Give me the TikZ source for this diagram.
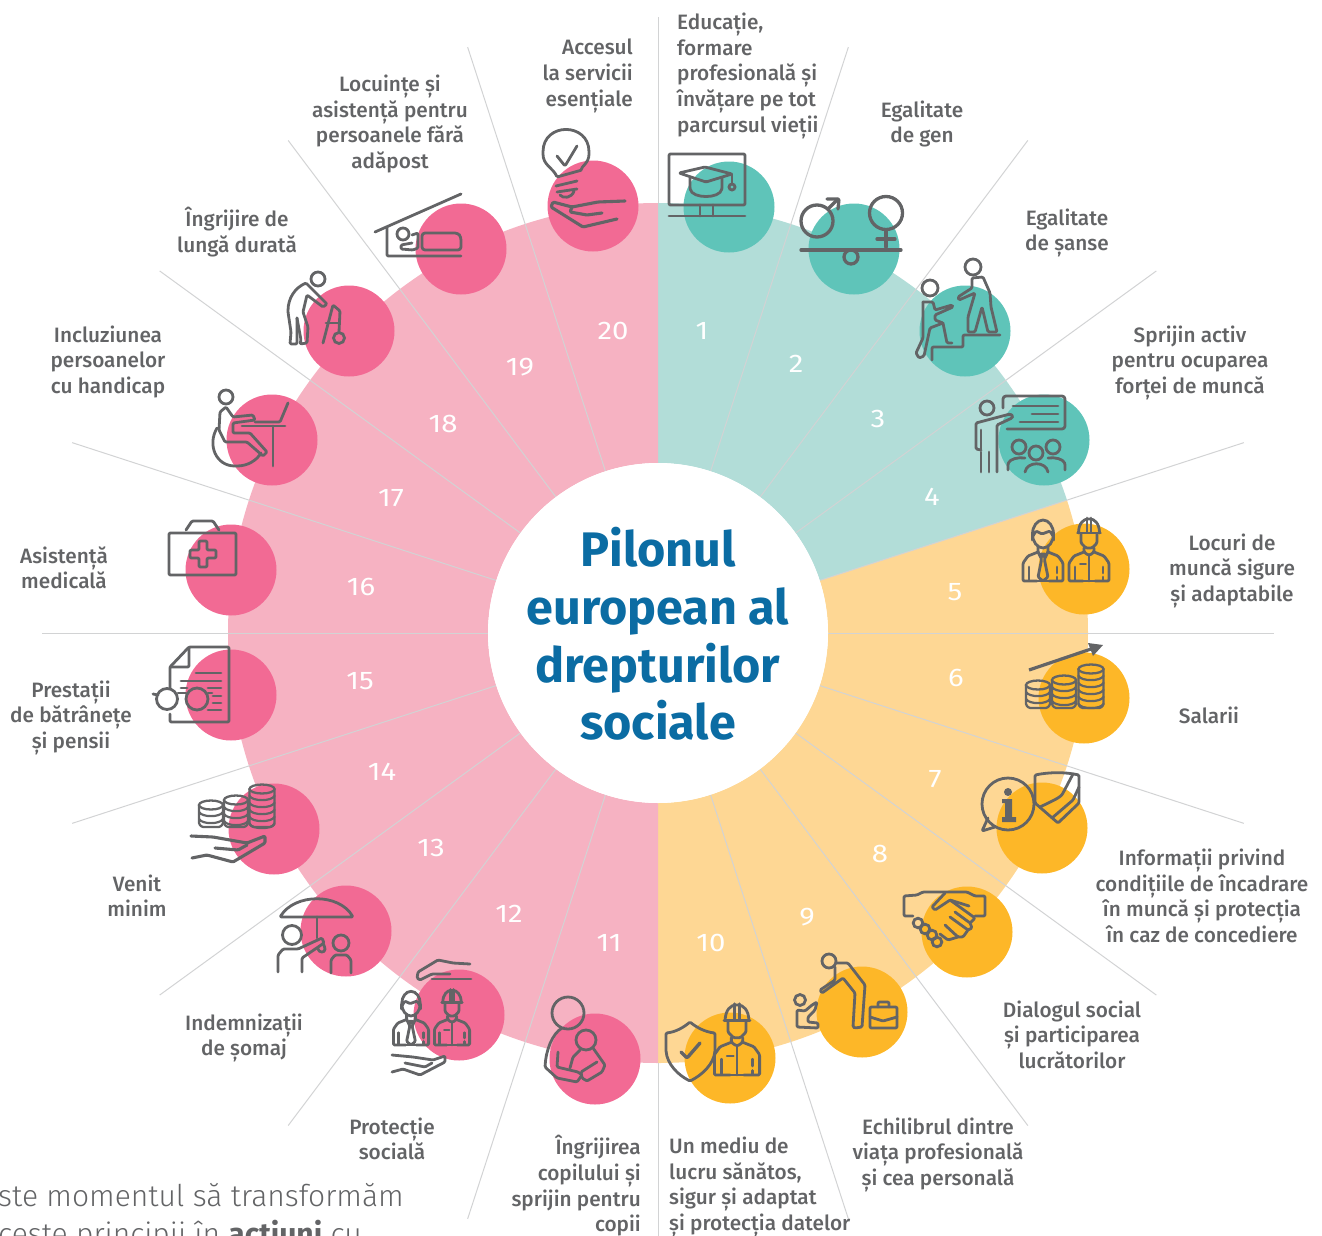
\documentclass[tikz,border=0pt]{standalone}
\usepackage{fontspec}
\setmainfont{Fira Sans}
\newfontfamily\labf{Fira Sans Medium}
\newfontfamily\lightf{Fira Sans Light}
\newfontfamily\numf{Fira Sans}[FakeStretch=1.15]
\definecolor{icg}{HTML}{636466}
\definecolor{txg}{HTML}{636466}
\definecolor{spk}{HTML}{D2D3D4}
\definecolor{ringT}{HTML}{B2DDD8}
\definecolor{ringY}{HTML}{FED794}
\definecolor{ringP}{HTML}{F6B2C2}
\definecolor{dotT}{HTML}{5FC4B9}
\definecolor{dotY}{HTML}{FDB728}
\definecolor{dotP}{HTML}{F26A94}
\definecolor{ttl}{HTML}{0B6CA3}
\tikzset{
  ic/.style={draw=icg,line width=2.8pt,line join=round,line cap=round,rounded corners=1.2pt},
  icc/.style={draw=icg,line width=2.8pt},
  dot/.style={circle,minimum size=91pt,inner sep=0pt,draw=none},
  num/.style={text=white,font=\numf\fontsize{25.5}{25.5}\selectfont},
  lab/.style={text=txg,align=center,inner sep=0pt,font=\labf\fontsize{20.8}{25.6}\selectfont,yshift=-3.4pt,
     execute at begin node=\strut,execute at end node=\strut},
  labr/.style={lab,align=right,anchor=east},
  labl/.style={lab,align=left,anchor=west},
  ttlt/.style={text=ttl,font=\fontsize{48.5}{58}\selectfont\bfseries,inner sep=0pt,anchor=base},
  spoke/.style={draw=spk,line width=1pt}
}
\newcommand\coinstack[4]{%
  \draw[icc,line width=2.3pt] (#1,#2) ellipse [x radius=#4,y radius=4.5];
  \draw[ic,line width=2.3pt] (#1-#4,#2) -- (#1-#4,#3-3) -- (#1-#4+3,#3) -- (#1+#4-3,#3) -- (#1+#4,#3-3) -- (#1+#4,#2);
  \pgfmathtruncatemacro\nnn{(#3-#2-3)/7}
  \foreach \k in {1,...,\nnn}{
    \draw[ic,line width=2.2pt] (#1-#4,#2+\k*7) .. controls (#1-#4+3,#2+\k*7+5.5) and (#1+#4-3,#2+\k*7+5.5) .. (#1+#4,#2+\k*7);
  }
}
\newcommand\armsbody{%
  \draw[ic] (-5,-29) -- (-15,-25) -- (-20,-18) -- (-20,0) -- (-6,0);
  \draw[ic] (5,-29) -- (15,-25) -- (20,-18) -- (20,0) -- (6,0);
  \draw[ic] (-14,-14) -- (-14,-1);
  \draw[ic] (14,-14) -- (14,-8);
  \draw[ic] (14,-4) -- (14,-1);
}
\newcommand\hatworker[3]{%
\begin{scope}[shift={(#1,#2)},scale=#3]
  \draw[ic] (-10.5,-48) .. controls (-10.5,-58) and (-5,-62) .. (0,-62) .. controls (5,-62) and (10.5,-58) .. (10.5,-48);
  \draw[ic] (-11.5,-48) -- (11.5,-48);
  \draw[ic] (-2,-63) -- (-2,-49);
  \draw[ic] (2,-63) -- (2,-49);
  \draw[ic] (-8,-47) -- (-8,-38) -- (-3,-33) -- (3,-33) -- (8,-38) -- (8,-47);
  \draw[ic] (-5,-33) -- (-5,-29) -- (-1,-26) -- (1,-26) -- (5,-29) -- (5,-33);
  \armsbody
  \draw[ic] (-6,0) -- (6,0);
  \draw[ic] (0,-26) -- (0,0);
  \draw[ic,line width=1.8pt] (-9,-17) -- (-3,-17);
\end{scope}}
\newcommand\suitworker[3]{%
\begin{scope}[shift={(#1,#2)},scale=#3]
  \draw[icc] (0,-47) ellipse [x radius=10.5,y radius=14];
  \draw[ic] (-10,-45) -- (-7,-50) -- (-1,-47) -- (7,-50) -- (10,-45);
  \draw[ic] (-11,-46) -- (-11,-41);
  \draw[ic] (11,-46) -- (11,-41);
  \draw[ic] (-5,-35) -- (-5,-29) -- (-2,-23) -- (0,-27) -- (2,-23) -- (5,-29) -- (5,-35);
  \armsbody
  \draw[ic] (-6,0) -- (6,0);
  \draw[ic] (-3,-27) -- (3,-27) -- (1.5,-21) -- (5,-4) -- (0,0) -- (-5,-4) -- (-1.5,-21) -- cycle;
\end{scope}}
\begin{document}
\begin{tikzpicture}[x=1pt,y=-1pt]
\useasboundingbox (0,0) rectangle (1322,1236);
\clip (0,0) rectangle (1322,1236);
% ring
\begin{scope}[shift={(658,633)},x=1pt,y=1pt]
  \fill[ringT] (90:170) arc[start angle=90,end angle=18,radius=170] -- (18:430) arc[start angle=18,end angle=90,radius=430] -- cycle;
  \fill[ringY] (18:170) arc[start angle=18,end angle=-90,radius=170] -- (-90:430) arc[start angle=-90,end angle=18,radius=430] -- cycle;
  \fill[ringP] (90:170) arc[start angle=90,end angle=270,radius=170] -- (270:430) arc[start angle=270,end angle=90,radius=430] -- cycle;
  \foreach \a in {0,18,36,53.1,72,108,126.9,144,162,180,198,216,233.1,252,288,306.9,324,342}{
    \draw[spoke] (\a:170) -- (\a:616);
  }
  \draw[spoke] (90:430) -- (90:616);
  \draw[spoke] (270:430) -- (270:616);
\end{scope}
% discs
\foreach \n/\x/\y/\c in {1/729/207/dotT,2/854/249/dotT,3/965/331/dotT,4/1044/440/dotT,
  5/1084/569/dotY,6/1084/698/dotY,7/1042/828/dotY,8/967/932/dotY,9/862/1012/dotY,10/730/1058/dotY,
  11/595/1059/dotP,12/459/1015/dotP,13/346/931/dotP,14/274/829/dotP,15/231/695/dotP,16/231/570/dotP,
  17/272/440/dotP,18/349/331/dotP,19/461/249/dotP,20/593/206/dotP}{
  \node[dot,fill=\c] (disc\n) at (\x,\y) {};
}
% centre
\node[circle,fill=white,minimum size=340pt,inner sep=0pt] (hub) at (658,633) {};
\node[ttlt] (t1) at (658,566) {Pilonul};
\node[ttlt] (t2) at (658,624) {european al};
\node[ttlt] (t3) at (658,682) {drepturilor};
\node[ttlt] (t4) at (658,739) {sociale};
% numbers
\foreach \n/\x/\y in {1/702/331,2/796/364,3/878/419,4/932/497,5/955/592,6/956/678,7/935/779,8/880/854,9/807/917,10/711/943,
  11/609/943,12/509/914,13/431/848,14/382/772,15/360/681,16/361/587,17/391/498,18/443/424,19/520/367,20/613/331}{
  \node[num] (num\n) at (\x,\y) {\n};
}
% icon 1
\draw[ic] (669,154) rectangle (745,205);
\draw[ic] (700,205) -- (700,216); \draw[ic] (713,205) -- (713,216);
\draw[ic] (669,216) -- (745,216);
\draw[ic] (679,173) -- (705,167) -- (732,174) -- (706,182) -- cycle;
\draw[ic] (732,174) -- (732,184);
\draw[icc] (732,187) circle[radius=3];
\draw[ic] (690,178) -- (690,188) .. controls (692,199) and (720,199) .. (722,188) -- (722,178);
% icon 2
\draw[icc,line width=3.3pt] (817,221) circle[radius=16];
\draw[ic,line width=3.3pt] (828,209) -- (838,199);
\draw[ic,line width=3.3pt] (827,199) -- (839,199) -- (838,209);
\draw[icc,line width=3.3pt] (886,213) circle[radius=16.5];
\draw[ic,line width=3.3pt] (886,230) -- (886,247);
\draw[ic,line width=3.3pt] (877,239) -- (895,239);
\draw[icc,line width=3.3pt] (851,257) circle[radius=7];
\draw[ic,line width=3.3pt] (801,250) -- (901,250);
% icon 3
\draw[icc] (973,267) circle[radius=8];
\draw[icc] (930,288) circle[radius=8];
\draw[ic] (972,278) -- (983,277) -- (990,293) -- (991,307) -- (997,332) -- (988,332) -- (982,307) -- (975,332) -- (968,332) -- (968,317) -- (975,293) -- (959,300) -- (958,297) -- (972,288) -- cycle;
\draw[ic] (1000,335) -- (963,335) -- (963,347) -- (932,347) -- (932,360);
\draw[ic] (923,302) -- (933,302) -- (935,310) -- (952,305) -- (953,307) -- (935,315) -- (935,320) -- (943,323) -- (947,343) -- (952,343);
\draw[ic] (923,302) -- (923,338) -- (916,353) -- (919,358) -- (924,356) -- (930,328) -- (943,323);
% icon 4
\draw[ic,rounded corners=3pt] (1003,408) -- (1003,396) -- (1065,396) -- (1065,429) -- (1007,429);
\draw[ic] (1013,406) -- (1058,406);
\draw[ic] (1032,414) -- (1058,414);
\draw[ic] (1020,422) -- (1058,422);
\draw[icc] (987,408) circle[radius=7];
\draw[ic] (981,450) -- (976,449) -- (976,423) -- (1010,414) -- (1013,416) -- (1012,418) -- (997,425) -- (997,472);
\draw[ic] (981,430) -- (981,449);
\draw[ic] (981,452) -- (981,472);
\draw[ic] (989,452) -- (989,472);
\draw[icc] (1019,447) circle[radius=7];
\draw[icc] (1036,453) circle[radius=7];
\draw[icc] (1053,447) circle[radius=7];
\draw[ic] (1008,470) -- (1008,464) .. controls (1010,459) and (1018,457) .. (1025,458);
\draw[ic] (1025,472) .. controls (1027,461) and (1046,461) .. (1048,472);
\draw[ic] (1048,458) .. controls (1055,457) and (1063,459) .. (1065,464) -- (1065,470);
% icon 5
\suitworker{1043}{581}{1}
\hatworker{1089}{581}{1}
% icon 6
\coinstack{1038}{685}{708}{12}
\coinstack{1064}{680}{708}{12}
\coinstack{1091}{669}{708}{12.5}
\draw[icg,line width=3.2pt] (1029,670) -- (1094,648);
\fill[icg] (1088,643) -- (1103,645) -- (1093,656) -- cycle;
% icon 7
\draw[ic] (988,818) -- (982,831) -- (995,827);
\draw[icc] (1008,804) circle[radius=26];
\fill[icg] (1008,792) circle[radius=4];
\fill[icg] (1002,799) -- (1012,799) -- (1012,817) -- (1016,817) -- (1016,822) -- (1002,822) -- (1002,817) -- (1005,817) -- (1005,803) -- (1002,803) -- cycle;
\draw[ic] (1035,775) .. controls (1050,772) and (1065,772) .. (1079,775) -- (1079,803) -- (1058,823) -- (1035,803) -- cycle;
\draw[ic] (1040,807) .. controls (1050,802) and (1060,798) .. (1063,793) -- (1073,774);
\draw[ic] (1052,818) -- (1073,800) -- (1079,787);
% icon 8
\draw[ic] (913,916) -- (904,916) -- (904,896) -- (917,895) -- (923,892) -- (967,892) -- (975,896) -- (985,896) -- (985,916) -- (975,916);
\draw[ic] (945,893) -- (932,907) -- (935,910) -- (950,900) -- (975,918) -- (970,923) -- (955,912);
\draw[ic] (970,923) -- (972,928) -- (968,930) -- (950,917);
\draw[ic] (968,930) -- (963,937) -- (958,937) -- (945,925);
\draw[ic] (958,937) -- (948,940) -- (940,934);
\draw[ic] (950,900) -- (969,906);
\foreach \kx/\ky in {918/923,925/929,932/935,937/942}{
  \draw[icc] (\kx,\ky) circle[radius=4.8];
}
% icon 9
\draw[icc] (829,961) circle[radius=7];
\draw[ic] (837,963) -- (848,963) -- (865,985) -- (862,1027) -- (855,1028) -- (853,1027) -- (855,993) -- (843,978) -- (822,993) -- (820,990) -- (835,980) -- (835,967);
\draw[icc] (800,1000) circle[radius=5.5];
\draw[ic] (797,1010) -- (797,1027) -- (818,1028) -- (818,1023) -- (808,1022) -- (808,1017) -- (815,1010) -- (817,1002) -- (812,1005) -- (805,1011) -- cycle;
\draw[ic] (870,1007) rectangle (897,1028);
\draw[ic] (878,1007) -- (878,1002) -- (889,1002) -- (889,1007);
\draw[ic] (870,1017) -- (883,1021) -- (897,1017);
% icon 10
\draw[ic] (666,1033) .. controls (676,1032) and (684,1027) .. (690,1022) .. controls (696,1027) and (705,1032) .. (715,1033) -- (715,1050) .. controls (714,1064) and (702,1075) .. (690,1081) .. controls (678,1075) and (667,1064) .. (666,1050) -- cycle;
\draw[ic,line width=3.4pt] (681,1052) -- (687,1058) -- (700,1043);
\hatworker{737}{1075}{1.13}
% icon 11
\draw[icc] (568,1013) circle[radius=16];
\draw[icc] (586,1040) circle[radius=10];
\draw[ic] (562,1028) .. controls (552,1034) and (546,1050) .. (545,1067) -- (557,1078) -- (577,1082) -- (582,1075) -- (578,1072) -- (557,1067) -- (558,1052);
\draw[ic] (570,1068) -- (573,1057) -- (580,1050);
\draw[ic] (593,1048) -- (605,1065) -- (602,1072) -- (587,1081) -- (582,1078) -- (581,1072) -- (597,1062);
% icon 12
\draw[ic] (470,964) -- (453,963) -- (438,960) -- (418,972) -- (417,978) -- (420,980) -- (432,974) -- (450,974);
\draw[ic] (432,979) -- (471,979);
\suitworker{411}{1045}{0.88}
\hatworker{452}{1045}{0.88}
\draw[ic] (392,1055) -- (413,1057) -- (433,1060) -- (445,1056) -- (445,1062) -- (420,1075) -- (403,1069) -- (392,1072);
\draw[ic] (405,1063) -- (425,1067) -- (432,1063);
% icon 13
\draw[ic] (280,917) .. controls (295,893) and (339,893) .. (353,917) -- cycle;
\draw[ic] (317,917) -- (317,938);
\draw[ic] (323,943) -- (325,948) .. controls (325,953) and (319,953) .. (318,949);
\draw[icc] (292,935) circle[radius=9.5];
\draw[ic] (278,972) -- (278,955) -- (283,949) -- (298,949) -- (322,938) -- (324,943) -- (302,958) -- (302,972);
\draw[icc] (341,943) circle[radius=8];
\draw[ic] (331,973) -- (331,960) -- (335,955) -- (347,955) -- (351,960) -- (351,973);
% icon 14
\coinstack{211}{805}{827}{12}
\coinstack{236}{800}{827}{12}
\coinstack{262}{789}{827}{12.5}
\draw[ic,line width=3.1pt] (191,836) -- (213,837) -- (247,843) -- (265,836) -- (265,843) -- (233,862) -- (207,855) -- (192,858);
\draw[ic,line width=3.1pt] (215,848) -- (238,850) -- (247,845);
% icon 15
\draw[ic] (170,688) -- (170,667) -- (189,647) -- (229,647) -- (229,722) -- (170,722) -- (170,714);
\draw[ic] (189,648) -- (189,667) -- (170,667);
\draw[ic] (196,673) -- (221,673);
\draw[ic] (181,681) -- (221,681);
\draw[ic] (181,688) -- (187,688);
\draw[ic] (208,688) -- (221,688);
\draw[ic] (213,696) -- (221,696);
\draw[ic] (213,703) -- (221,703);
\draw[ic] (208,710) -- (221,710);
\draw[icc] (167,699) circle[radius=10.5];
\draw[icc] (197,699) circle[radius=11];
\draw[ic] (178,693) -- (186,693);
\draw[ic] (153,694) -- (158,695);
\draw[ic] (208,693) -- (212,693);
% icon 16
\draw[ic] (169,533) rectangle (236,575);
\draw[ic] (186,530) -- (192,521) -- (213,521) -- (219,530);
\draw[ic] (199,541) -- (207,541) -- (207,550) -- (216,550) -- (216,558) -- (207,558) -- (207,567) -- (199,567) -- (199,558) -- (190,558) -- (190,550) -- (199,550) -- cycle;
% icon 17
\draw[icc] (226,397) circle[radius=7];
\draw[ic] (220,412) -- (226,407) -- (233,417) -- (253,415) -- (255,420) -- (233,423) -- (233,433) -- (250,433) -- (267,452) -- (263,456) -- (247,442) -- (225,442) -- (219,430) -- cycle;
\draw[ic] (217,428) .. controls (207,445) and (216,466) .. (236,466) .. controls (248,466) and (257,460) .. (261,453);
\draw[ic] (242,426) -- (285,426);
\draw[ic] (273,426) -- (273,466);
\draw[ic] (255,422) -- (280,422) -- (288,403);
% icon 18
\draw[icc] (318,279) circle[radius=7];
\draw[ic] (313,290) -- (306,283) .. controls (295,288) and (288,298) .. (288,312) -- (291,332) -- (290,344) -- (297,344) -- (297,318);
\draw[ic] (297,318) -- (301,340) -- (300,344) -- (307,343) -- (308,327) -- (303,312) -- (307,295) -- (323,307) -- (327,304) -- (313,290);
\draw[ic] (323,343) -- (333,305) -- (340,311) -- (339,332);
\draw[ic] (326,323) -- (339,323);
\draw[icc] (339,338) circle[radius=5.5];
% icon 19
\draw[ic] (375,232) -- (461,194);
\draw[ic] (387,227) -- (387,256) -- (461,256);
\draw[icc] (403,234) circle[radius=6];
\draw[ic] (412,235) -- (418,233) -- (418,248) -- (413,250) -- (401,249) -- (401,245) -- (412,243);
\draw[ic,rounded corners=3pt] (422,250) -- (422,233) -- (458,233) -- (461,237) -- (461,250) -- cycle;
% icon 20
\draw[ic] (557,177) .. controls (553,168) and (543,165) .. (543,153) .. controls (543,122) and (589,122) .. (589,153) .. controls (589,163) and (581,167) .. (582,170) -- cycle;
\draw[ic] (557,156) -- (565,166) -- (577,146);
\draw[ic] (556,186) -- (577,181);
\draw[ic] (557,192) -- (577,189);
\draw[ic] (560,195) .. controls (563,199) and (572,198) .. (574,191);
\draw[ic,line width=3.1pt] (625,201) -- (598,202) -- (572,207) -- (553,202) -- (551,207) -- (583,227) -- (617,219);
\draw[ic,line width=3.1pt] (572,207) -- (570,212) -- (587,215) -- (602,213);
% labels
\node[labr] (l20) at (633,73) {Accesul\\la servicii\\esențiale};
\node[labl] (l1) at (677,73) {Educație,\\formare\\profesională și\\învățare pe tot\\parcursul vieții};
\node[lab] (l2) at (922,122) {Egalitate\\de gen};
\node[lab] (l3) at (1067,230) {Egalitate\\de șanse};
\node[lab] (l4) at (1190,360) {Sprijin activ\\pentru ocuparea\\forței de muncă};
\node[lab] (l5) at (1232,568) {Locuri de\\muncă sigure\\și adaptabile};
\node[lab] (l6) at (1209,715) {Salarii};
\node[lab] (l7) at (1202,896) {Informații privind\\condițiile de încadrare\\în muncă și protecția\\în caz de concediere};
\node[lab] (l8) at (1072,1035) {Dialogul social\\și participarea\\lucrătorilor};
\node[lab] (l9) at (938,1152) {Echilibrul dintre\\viața profesională\\și cea personală};
\node[labl] (l10) at (669,1184) {Un mediu de\\lucru sănătos,\\sigur și adaptat\\și protecția datelor};
\node[labr] (l11) at (641,1184) {Îngrijirea\\copilului și\\sprijin pentru\\copii};
\node[lab] (l12) at (392,1139) {Protecție\\socială};
\node[lab] (l13) at (244,1035) {Indemnizații\\de șomaj};
\node[lab] (l14) at (137,896) {Venit\\minim};
\node[lab] (l15) at (71,715) {Prestații\\de bătrânețe\\și pensii};
\node[lab] (l16) at (64,568) {Asistență\\medicală};
\node[lab] (l17) at (108,360) {Incluziunea\\persoanelor\\cu handicap};
\node[lab] (l18) at (237,230) {Îngrijire de\\lungă durată};
\node[lab] (l19) at (390,122) {Locuințe și\\asistență pentru\\persoanele fără\\adăpost};
% clipped sentence
\node[anchor=base west,inner sep=0pt,text=txg,font=\lightf\fontsize{30}{30}\selectfont] (s1) at (-2,1206) {ste momentul să transformăm};
\node[anchor=base west,inner sep=0pt,text=txg,font=\lightf\fontsize{30}{30}\selectfont] (s2) at (-2,1244) {ceste principii în {\rmfamily\bfseries acțiuni} cu};
\end{tikzpicture}
\end{document}
